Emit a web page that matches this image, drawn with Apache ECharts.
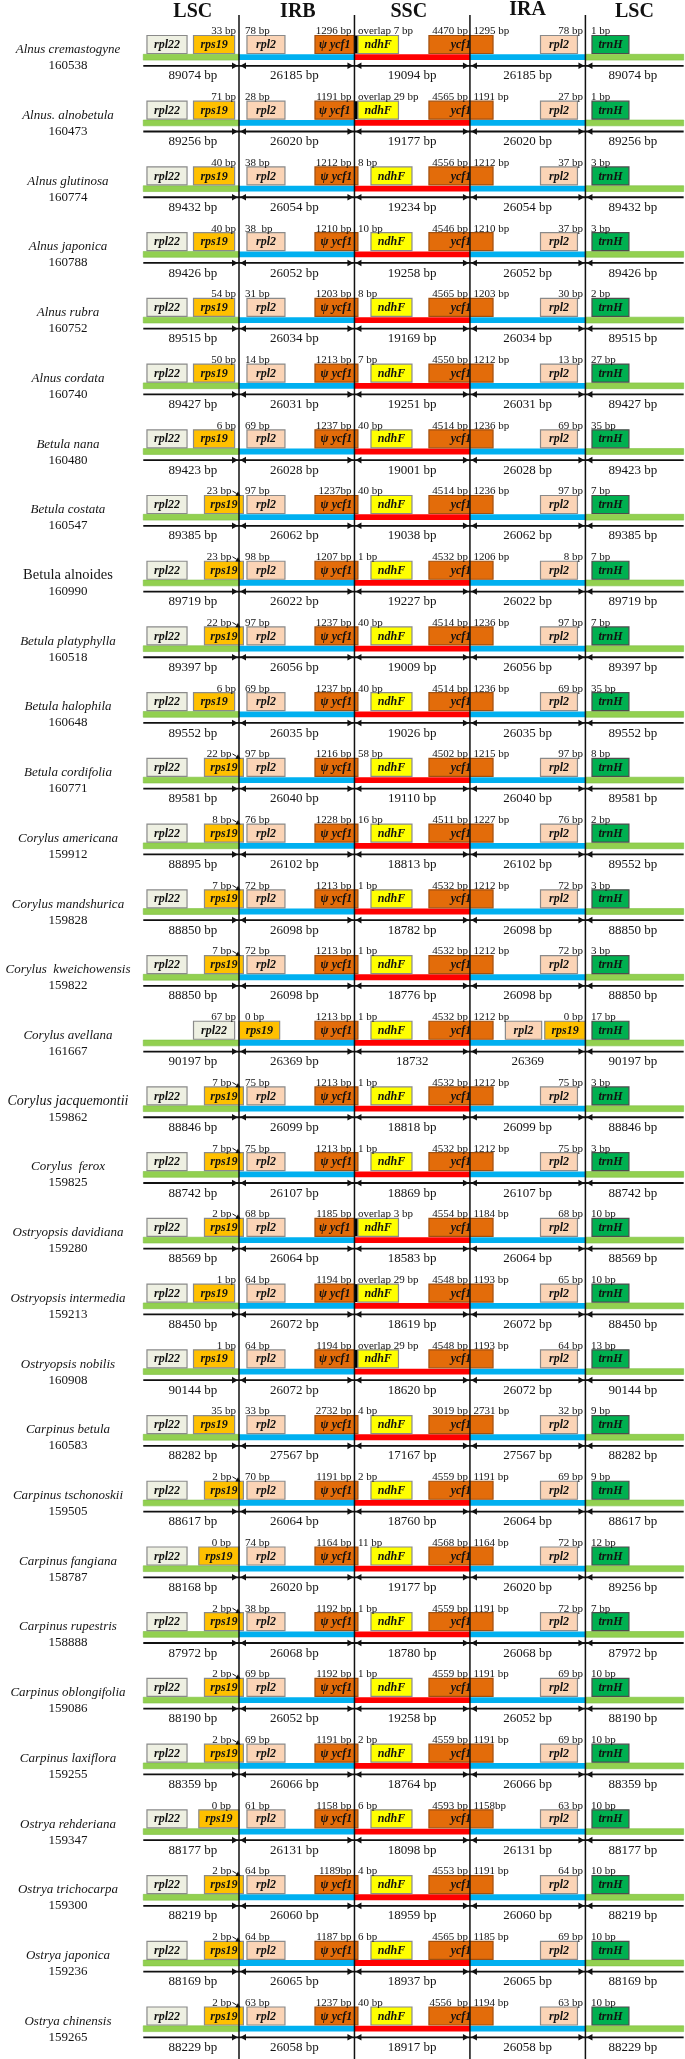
<!DOCTYPE html>
<html><head><meta charset="utf-8">
<script src="https://cdn.jsdelivr.net/npm/echarts@6/dist/echarts.min.js"></script>
<style>html,body{margin:0;padding:0;background:#fff}#c{width:685px;height:2059px}</style>
</head><body><div id="c"></div>
<script>
// ---------------- data ----------------
const regions = ['LSC', 'IRB', 'SSC', 'IRA', 'LSC'];
const species = ['Alnus cremastogyne','Alnus. alnobetula','Alnus glutinosa','Alnus japonica','Alnus rubra','Alnus cordata','Betula nana','Betula costata','Betula alnoides','Betula platyphylla','Betula halophila','Betula cordifolia','Corylus americana','Corylus mandshurica','Corylus  kweichowensis','Corylus avellana','Corylus jacquemontii','Corylus  ferox','Ostryopsis davidiana','Ostryopsis intermedia','Ostryopsis nobilis','Carpinus betula','Carpinus tschonoskii','Carpinus fangiana','Carpinus rupestris','Carpinus oblongifolia','Carpinus laxiflora','Ostrya rehderiana','Ostrya trichocarpa','Ostrya japonica','Ostrya chinensis'];
const genomeSizes = [160538,160473,160774,160788,160752,160740,160480,160547,160990,160518,160648,160771,159912,159828,159822,161667,159862,159825,159280,159213,160908,160583,159505,158787,158888,159086,159255,159347,159300,159236,159265];
// distance labels at the four junctions (left / right of JLB, JSB, JSA, JLA)
const jlbLeft  = ['33 bp','71 bp','40 bp','40 bp','54 bp','50 bp','6 bp','23 bp','23 bp','22 bp','6 bp','22 bp','8 bp','7 bp','7 bp','67 bp','7 bp','7 bp','2 bp','1 bp','1 bp','35 bp','2 bp','0 bp','2 bp','2 bp','2 bp','0 bp','2 bp','2 bp','2 bp'];
const jlbRight = ['78 bp','28 bp','38 bp','38  bp','31 bp','14 bp','69 bp','97 bp','98 bp','97 bp','69 bp','97 bp','76 bp','72 bp','72 bp','0 bp','75 bp','75 bp','68 bp','64 bp','64 bp','33 bp','70 bp','74 bp','38 bp','69 bp','69 bp','61 bp','64 bp','64 bp','63 bp'];
const jsbLeft  = ['1296 bp','1191 bp','1212 bp','1210 bp','1203 bp','1213 bp','1237 bp','1237bp','1207 bp','1237 bp','1237 bp','1216 bp','1228 bp','1213 bp','1213 bp','1213 bp','1213 bp','1213 bp','1185 bp','1194 bp','1194 bp','2732 bp','1191 bp','1164 bp','1192 bp','1192 bp','1191 bp','1158 bp','1189bp','1187 bp','1237 bp'];
const jsbRight = ['overlap 7 bp','overlap 29 bp','8 bp','10 bp','8 bp','7 bp','40 bp','40 bp','1 bp','40 bp','40 bp','58 bp','16 bp','1 bp','1 bp','1 bp','1 bp','1 bp','overlap 3 bp','overlap 29 bp','overlap 29 bp','4 bp','2 bp','11 bp','1 bp','1 bp','2 bp','6 bp','4 bp','6 bp','40 bp'];
const jsaLeft  = ['4470 bp','4565 bp','4556 bp','4546 bp','4565 bp','4550 bp','4514 bp','4514 bp','4532 bp','4514 bp','4514 bp','4502 bp','4511 bp','4532 bp','4532 bp','4532 bp','4532 bp','4532 bp','4554 bp','4548 bp','4548 bp','3019 bp','4559 bp','4568 bp','4559 bp','4559 bp','4559 bp','4593 bp','4553 bp','4565 bp','4556  bp'];
const jsaRight = ['1295 bp','1191 bp','1212 bp','1210 bp','1203 bp','1212 bp','1236 bp','1236 bp','1206 bp','1236 bp','1236 bp','1215 bp','1227 bp','1212 bp','1212 bp','1212 bp','1212 bp','1212 bp','1184 bp','1193 bp','1193 bp','2731 bp','1191 bp','1164 bp','1191 bp','1191 bp','1191 bp','1158bp','1191 bp','1185 bp','1194 bp'];
const jlaLeft  = ['78 bp','27 bp','37 bp','37 bp','30 bp','13 bp','69 bp','97 bp','8 bp','97 bp','69 bp','97 bp','76 bp','72 bp','72 bp','0 bp','75 bp','75 bp','68 bp','65 bp','64 bp','32 bp','69 bp','72 bp','72 bp','69 bp','69 bp','63 bp','64 bp','69 bp','63 bp'];
const jlaRight = ['1 bp','1 bp','3 bp','3 bp','2 bp','27 bp','35 bp','7 bp','7 bp','7 bp','35 bp','8 bp','2 bp','3 bp','3 bp','17 bp','3 bp','3 bp','10 bp','10 bp','13 bp','9 bp','9 bp','12 bp','7 bp','10 bp','10 bp','10 bp','10 bp','10 bp','10 bp'];
// region lengths
const lscLeft  = [89074,89256,89432,89426,89515,89427,89423,89385,89719,89397,89552,89581,88895,88850,88850,90197,88846,88742,88569,88450,90144,88282,88617,88168,87972,88190,88359,88177,88219,88169,88229];
const irbLen   = [26185,26020,26054,26052,26034,26031,26028,26062,26022,26056,26035,26040,26102,26098,26098,26369,26099,26107,26064,26072,26072,27567,26064,26020,26068,26052,26066,26131,26060,26065,26058];
const sscLen   = [19094,19177,19234,19258,19169,19251,19001,19038,19227,19009,19026,19110,18813,18782,18776,18732,18818,18869,18583,18619,18620,17167,18760,19177,18780,19258,18764,18098,18959,18937,18917];
const iraLen   = [26185,26020,26054,26052,26034,26031,26028,26062,26022,26056,26035,26040,26102,26098,26098,26369,26099,26107,26064,26072,26072,27567,26064,26020,26068,26052,26066,26131,26060,26065,26058];
const lscRight = [89074,89256,89432,89426,89515,89427,89423,89385,89719,89397,89552,89581,89552,88850,88850,90197,88846,88742,88569,88450,90144,88282,88617,89256,87972,88190,88359,88177,88219,88169,88229];
// lengths printed without the "bp" unit: [row, region]
const bareLengths = [[15, 2], [15, 3]];
// position of rps19 relative to J_LB
const rps19Mode = ['in','in','in','in','in','in','in','cross','cross','cross','in','cross','cross','cross','cross','ir','cross','cross','cross','in','in','in','cross','edge','cross','cross','cross','edge','cross','cross','cross'];

// ---------------- layout / style (junction units: JLB=0, JSB=1, JSA=2, JLA=3) ----------------
const FONT = '"Liberation Serif","Times New Roman",serif';
const BAR = [[-0.829, 0, '#92D050'], [0, 1, '#00B0F0'], [1, 2, '#FF0000'], [2, 3, '#00B0F0'], [3, 3.851, '#92D050']];
const GENE = {
  rpl22:  {fill:'#EEF0E2', stroke:'#8a8a8a', text:'rpl22'},
  rps19:  {fill:'#FFC000', stroke:'#8a8a8a', text:'rps19'},
  rpl2:   {fill:'#FBD4B6', stroke:'#8a8a8a', text:'rpl2'},
  psi:    {fill:'#E36C0A', stroke:'#a04f10', text:'\u03C8 ycf1'},
  ycf1:   {fill:'#E36C0A', stroke:'#a04f10', text:'ycf1'},
  ndhF:   {fill:'#FFFF00', stroke:'#8a8a8a', text:'ndhF'},
  trnH:   {fill:'#00B050', stroke:'#4d4d4d', text:'trnH'},
  strip:  {fill:'#000000', stroke:null, text:''}
};
const POS = {
  rpl22:[-0.797,-0.450], rps19in:[-0.394,-0.038], rps19cross:[-0.299,0.038], rps19edge:[-0.348,0],
  rpl2B:[0.069,0.398], psi:[0.658,1.03], psiOv:[0.658,1.0], strip:[1.0,1.03],
  ndhF:[1.143,1.498], ndhFOv:[1.03,1.381], ycf1:[1.645,2.2], rpl2A:[2.611,2.931], trnH:[3.057,3.377],
  rps19B:[0,0.352], rpl2Ashift:[2.307,2.621], rps19A:[2.648,3.0]
};
const LENGTH_X = [-0.40, 0.48, 1.5, 2.5, 3.41];
const HEADER_X = [-0.40, 0.51, 1.47, 2.50, 3.425];
const NAME_X = -1.481;
// vertical offsets (px) from the genome bar centre
const DY = {label:-25.5, boxTop:-21.5, boxBottom:-3.5, bar:2.7, arrow:8.8, length:19, name:-7.2, size:8.8, header:-45.5, lineTop:-42};

function genesForRow(i) {
  const m = rps19Mode[i];
  const ov = jsbRight[i].indexOf('overlap') === 0;
  const g = [];
  if (m === 'ir') {
    g.push(['rpl22', POS.rps19in], ['rps19', POS.rps19B], ['rpl2', POS.rpl2Ashift], ['rps19', POS.rps19A]);
  } else {
    g.push(['rpl22', POS.rpl22], ['rps19', POS['rps19' + m]], ['rpl2', POS.rpl2A], ['rpl2', POS.rpl2B]);
  }
  if (ov) g.push(['psi', POS.psiOv], ['strip', POS.strip], ['ndhF', POS.ndhFOv]);
  else g.push(['psi', POS.psi], ['ndhF', POS.ndhF]);
  g.push(['ycf1', POS.ycf1], ['trnH', POS.trnH]);
  return g;
}

function T(text, x, y, o) {
  o = o || {};
  return {type:'text', silent:true, style:{text:text, x:x, y:y, fill:o.fill||'#141414',
    fontSize:o.size||11, fontFamily:FONT, fontStyle:o.style||'normal', fontWeight:o.weight||'normal',
    align:o.align||'left', textAlign:o.align||'left', verticalAlign:'middle', textVerticalAlign:'middle'}};
}

function renderRow(params, api) {
  const i = api.value(1);
  const X = u => api.coord([u, i])[0];
  const bc = api.coord([0, i])[1];
  const J = [X(0), X(1), X(2), X(3)];
  const out = [];
  // genome bar
  BAR.forEach(b => out.push({type:'rect', shape:{x:X(b[0]), y:bc - DY.bar, width:X(b[1]) - X(b[0]), height:DY.bar * 2 + 0.4},
    style:{fill:b[2], stroke: b[2] === '#92D050' ? '#7cbf3f' : null, lineWidth:0.6}}));
  // genes
  const boxTop = bc + DY.boxTop, boxH = DY.boxBottom - DY.boxTop;
  genesForRow(i).forEach(([k, r]) => {
    const s = GENE[k];
    const x0 = X(r[0]), x1 = X(r[1]);
    out.push({type:'rect', shape:{x:x0, y:boxTop, width:x1 - x0, height:boxH},
      style:{fill:s.fill, stroke:s.stroke, lineWidth:s.stroke ? 1.2 : 0}});
    if (s.text) out.push(T(s.text, (x0 + x1) / 2, boxTop + boxH / 2 + 0.5, {size:12, style:'italic', weight:'bold', align:'center', fill:'#111'}));
  });
  // junction distance labels
  const ly = bc + DY.label;
  const m = rps19Mode[i];
  const lOff = m === 'cross' ? -7.5 : (m === 'edge' ? -8 : -3);
  out.push(T(jlbLeft[i],  J[0] + lOff, ly, {align:'right'}));
  out.push(T(jlbRight[i], J[0] + 6,    ly));
  out.push(T(jsbLeft[i],  J[1] - 3,    ly, {align:'right'}));
  out.push(T(jsbRight[i], J[1] + 3.5,  ly));
  out.push(T(jsaLeft[i],  J[2] - 2,    ly, {align:'right'}));
  out.push(T(jsaRight[i], J[2] + 3.5,  ly));
  out.push(T(jlaLeft[i],  J[3] - 2.5,  ly, {align:'right'}));
  out.push(T(jlaRight[i], J[3] + 5.5,  ly));
  if (m === 'cross') {
    const sx = J[0] - 6.5, sy = ly - 0.5, tx = J[0] + 1.5, ty = boxTop + 0.5;
    const dx = tx - sx, dy = ty - sy, L = Math.hypot(dx, dy), ux = dx / L, uy = dy / L;
    const bx = tx - 4.5 * ux, by = ty - 4.5 * uy;
    out.push({type:'line', shape:{x1:sx, y1:sy, x2:bx, y2:by}, style:{stroke:'#111', lineWidth:1}});
    out.push({type:'polygon', shape:{points:[[tx, ty], [bx - 2.6 * uy, by + 2.6 * ux], [bx + 2.6 * uy, by - 2.6 * ux]]}, style:{fill:'#111'}});
  }
  // length arrows
  const ay = bc + DY.arrow;
  out.push({type:'line', shape:{x1:X(BAR[0][0]), y1:ay, x2:X(BAR[4][1]), y2:ay}, style:{stroke:'#111', lineWidth:1.8}});
  J.forEach(jx => {
    out.push({type:'polygon', shape:{points:[[jx - 1.2, ay], [jx - 7, ay - 3.3], [jx - 7, ay + 3.3]]}, style:{fill:'#111'}});
    out.push({type:'polygon', shape:{points:[[jx + 1.2, ay], [jx + 7, ay - 3.3], [jx + 7, ay + 3.3]]}, style:{fill:'#111'}});
  });
  // region lengths
  const lens = [lscLeft[i], irbLen[i], sscLen[i], iraLen[i], lscRight[i]];
  lens.forEach((v, k) => {
    const bare = bareLengths.some(b => b[0] === i && b[1] === k);
    out.push(T(v + (bare ? '' : ' bp'), X(LENGTH_X[k]), bc + DY.length, {size:13, align:'center'}));
  });
  // species name and genome size
  const upright = species[i] === 'Betula alnoides';
  const nSize = upright ? 14.5 : (species[i] === 'Corylus jacquemontii' ? 14 : 13);
  out.push(T(species[i], X(NAME_X), bc + DY.name, {size:nSize, style: upright ? 'normal' : 'italic', align:'center'}));
  out.push(T(String(genomeSizes[i]), X(NAME_X), bc + DY.size, {size:13, align:'center'}));
  return {type:'group', children:out};
}

function renderJunction(params, api) {
  const j = api.value(0);
  const top = api.coord([j, 0])[1] + DY.lineTop;
  const bottom = api.coord([j, Y_MAX])[1];
  const x = api.coord([j, 0])[0];
  return {type:'line', shape:{x1:x, y1:top, x2:x, y2:bottom}, style:{stroke:'#111', lineWidth:1.5}};
}

function renderHeader(params, api) {
  const idx = params.dataIndex;
  const p = api.coord([api.value(0), 0]);
  const dy = regions[idx] === 'IRA' ? DY.header - 2 : DY.header;
  return T(regions[idx], p[0], p[1] + dy, {size:20, weight:'bold', align:'center', fill:'#111'});
}

const Y_MIN = -0.8674, Y_MAX = 30.464;
const chart = echarts.init(document.getElementById('c'));
chart.setOption({
  animation:false,
  backgroundColor:'#fff',
  grid:{left:0, right:0, top:0, bottom:0},
  xAxis:{type:'value', min:-2.0698, max:3.8625, show:false},
  yAxis:{type:'value', inverse:true, min:Y_MIN, max:Y_MAX, show:false},
  series:[
    {type:'custom', name:'rows', clip:false, z:2, renderItem:renderRow, data:species.map((s, i) => [0, i])},
    {type:'custom', name:'junctions', clip:false, z:5, renderItem:renderJunction, data:[0, 1, 2, 3].map(j => [j, 0])},
    {type:'custom', name:'headers', clip:false, z:5, renderItem:renderHeader, data:HEADER_X.map(x => [x, 0])}
  ]
});
</script></body></html>
